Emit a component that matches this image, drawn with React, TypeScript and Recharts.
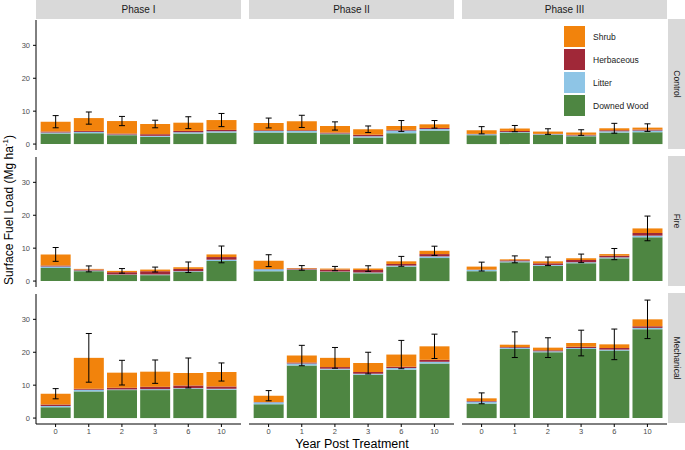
import React from 'react'
import { BarChart, Bar, XAxis, YAxis, ErrorBar } from 'recharts'

const YEARS = ['0', '1', '2', '3', '6', '10']
const PHASES = ['Phase I', 'Phase II', 'Phase III']
const TREATMENTS = ['Control', 'Fire', 'Mechanical']
const Y_TICKS = [0, 10, 20, 30]

// each array: [Phase I, Phase II, Phase III], values in Mg/ha per year post treatment
const CONTROL_WOOD = [[3.2, 3.3, 2.7, 2.2, 3.2, 3.5], [3.5, 3.5, 3.0, 2.0, 3.3, 4.1], [2.7, 3.5, 2.8, 2.4, 3.5, 3.6]]
const CONTROL_LITTER = [[0.3, 0.4, 0.2, 0.3, 0.4, 0.4], [0.5, 0.5, 0.2, 0.4, 0.8, 0.5], [0.3, 0.2, 0.2, 0.2, 0.4, 0.5]]
const CONTROL_HERB = [[0.3, 0.3, 0.3, 0.5, 0.4, 0.4], [0.2, 0.2, 0.3, 0.4, 0.2, 0.3], [0.1, 0.3, 0.1, 0.2, 0.3, 0.3]]
const CONTROL_SHRUB = [[3.0, 3.9, 3.8, 3.1, 2.5, 3.0], [2.2, 2.7, 2.0, 1.7, 1.2, 1.1], [1.1, 0.7, 0.7, 0.7, 0.6, 0.6]]
const CONTROL_SE = [[1.85, 1.85, 1.4, 1.15, 1.8, 2.0], [1.5, 1.85, 1.25, 1.0, 1.65, 1.15], [1.1, 0.95, 0.85, 0.85, 1.5, 1.15]]

const FIRE_WOOD = [[4.0, 3.0, 1.9, 1.8, 2.8, 6.1], [3.0, 3.4, 2.8, 2.4, 4.4, 7.0], [3.0, 5.7, 4.6, 5.4, 6.9, 13.3]]
const FIRE_LITTER = [[0.4, 0.2, 0.1, 0.2, 0.2, 0.4], [0.6, 0.1, 0.1, 0.2, 0.3, 0.5], [0.4, 0.3, 0.3, 0.3, 0.3, 0.5]]
const FIRE_HERB = [[0.3, 0.3, 0.7, 1.0, 0.7, 0.8], [0.1, 0.3, 0.6, 0.8, 0.5, 0.7], [0.1, 0.3, 0.5, 0.7, 0.5, 0.8]]
const FIRE_SHRUB = [[3.4, 0.2, 0.4, 0.5, 0.5, 0.8], [2.5, 0.2, 0.3, 0.4, 0.8, 1.0], [0.9, 0.3, 0.6, 0.5, 0.5, 1.4]]
const FIRE_SE = [[2.1, 0.9, 0.7, 0.75, 1.6, 2.55], [1.8, 0.7, 0.65, 0.85, 1.5, 1.4], [1.35, 1.05, 1.3, 1.3, 1.7, 3.75]]

const MECH_WOOD = [[3.3, 8.1, 8.5, 8.5, 8.9, 8.6], [4.2, 16.0, 14.7, 13.2, 14.7, 16.6], [4.4, 21.0, 20.0, 21.0, 20.5, 27.0]]
const MECH_LITTER = [[0.4, 0.5, 0.2, 0.3, 0.2, 0.3], [0.6, 0.6, 0.3, 0.3, 0.5, 0.5], [0.6, 0.4, 0.3, 0.3, 0.3, 0.4]]
const MECH_HERB = [[0.4, 0.3, 0.5, 0.7, 0.8, 0.7], [0.1, 0.3, 0.5, 0.5, 0.4, 0.6], [0.2, 0.2, 0.3, 0.4, 0.5, 0.5]]
const MECH_SHRUB = [[3.3, 9.4, 4.6, 4.6, 3.8, 4.4], [1.9, 2.1, 2.8, 2.7, 3.7, 4.1], [0.8, 0.7, 0.8, 1.1, 1.1, 2.1]]
const MECH_SE = [[1.55, 7.4, 3.75, 3.55, 4.55, 2.75], [1.55, 3.1, 3.15, 3.3, 4.3, 3.7], [1.65, 3.9, 3.0, 3.9, 4.65, 5.85]]

const WOOD = [CONTROL_WOOD, FIRE_WOOD, MECH_WOOD]
const LITTER = [CONTROL_LITTER, FIRE_LITTER, MECH_LITTER]
const HERB = [CONTROL_HERB, FIRE_HERB, MECH_HERB]
const SHRUB = [CONTROL_SHRUB, FIRE_SHRUB, MECH_SHRUB]
const SE = [CONTROL_SE, FIRE_SE, MECH_SE]

const COLORS: Record<string, string> = {
  wood: '#4E8642',
  litter: '#8EC5E6',
  herb: '#A02838',
  shrub: '#F2830C',
}

const LEGEND_ITEMS = [
  { key: 'shrub', label: 'Shrub' },
  { key: 'herb', label: 'Herbaceous' },
  { key: 'litter', label: 'Litter' },
  { key: 'wood', label: 'Downed Wood' },
]

const COL_LEFT = [36, 249, 462]
const ROW_TOP = [20, 157, 294]
const PANEL_W = 205
const PANEL_H = 130
const FONT = '"Liberation Sans", Arial, sans-serif'

function Facet({ t, p }: { t: number; p: number }) {
  const left = p === 0
  const bottom = t === 2
  const yw = left ? 36 : 0
  const xh = bottom ? 22 : 0

  const data = YEARS.map((year, i) => ({
    year,
    wood: WOOD[t][p][i],
    litter: LITTER[t][p][i],
    herb: HERB[t][p][i],
    shrub: SHRUB[t][p][i],
    se: SE[t][p][i],
  }))

  const tickStyle = { fontSize: 7.5, fill: '#4D4D4D', fontFamily: FONT }

  return (
    <div style={{ position: 'absolute', left: COL_LEFT[p] - yw, top: ROW_TOP[t] }}>
      <BarChart
        width={PANEL_W + yw}
        height={PANEL_H + xh}
        data={data}
        margin={{ top: 0, right: 0, bottom: 0, left: 0 }}
        barCategoryGap="5%"
      >
        <XAxis
          dataKey="year"
          hide={!bottom}
          height={xh}
          padding={{ left: 3, right: 3 }}
          axisLine={{ stroke: '#000', strokeWidth: 1 }}
          tickLine={{ stroke: '#000' }}
          tickSize={3}
          tick={tickStyle}
        />
        <YAxis
          hide={!left}
          width={yw}
          type="number"
          domain={[-1.8, 37.7]}
          ticks={Y_TICKS}
          axisLine={{ stroke: '#000', strokeWidth: 1 }}
          tickLine={{ stroke: '#000' }}
          tickSize={3}
          tickMargin={3}
          tick={tickStyle}
        />
        <Bar dataKey="wood" stackId="a" fill={COLORS.wood} isAnimationActive={false} />
        <Bar dataKey="litter" stackId="a" fill={COLORS.litter} isAnimationActive={false} />
        <Bar dataKey="herb" stackId="a" fill={COLORS.herb} isAnimationActive={false} />
        <Bar dataKey="shrub" stackId="a" fill={COLORS.shrub} isAnimationActive={false}>
          <ErrorBar dataKey="se" width={3} stroke="#000" strokeWidth={1} direction="y" isAnimationActive={false} />
        </Bar>
      </BarChart>
    </div>
  )
}

export default function App() {
  return (
    <div
      style={{
        position: 'absolute',
        left: 0,
        top: 0,
        width: 685,
        height: 450,
        background: '#fff',
        fontFamily: FONT,
        overflow: 'hidden',
      }}
    >
      {PHASES.map((ph, p) => (
        <div
          key={ph}
          style={{
            position: 'absolute',
            left: COL_LEFT[p],
            top: 0,
            width: PANEL_W,
            height: 19,
            background: '#D9D9D9',
            color: '#1A1A1A',
            fontSize: 10,
            lineHeight: '19px',
            textAlign: 'center',
          }}
        >
          {ph}
        </div>
      ))}
      {TREATMENTS.map((tr, t) => (
        <div
          key={tr}
          style={{
            position: 'absolute',
            left: 668,
            top: ROW_TOP[t] - 1,
            width: 17,
            height: PANEL_H,
            background: '#D9D9D9',
          }}
        >
          <div
            style={{
              position: 'absolute',
              left: 8.5,
              top: PANEL_H / 2,
              transform: 'translate(-50%, -50%) rotate(90deg)',
              whiteSpace: 'nowrap',
              fontSize: 8.5,
              color: '#1A1A1A',
            }}
          >
            {tr}
          </div>
        </div>
      ))}
      {TREATMENTS.map((tr, t) => PHASES.map((ph, p) => <Facet key={tr + ph} t={t} p={p} />))}
      <div style={{ position: 'absolute', left: 563, top: 25 }}>
        {LEGEND_ITEMS.map((it) => (
          <div key={it.key} style={{ display: 'flex', alignItems: 'center', height: 23 }}>
            <div style={{ width: 21, height: 21, background: COLORS[it.key], border: '0.5px solid #fff' }} />
            <span style={{ marginLeft: 7, fontSize: 8.5, color: '#1A1A1A' }}>{it.label}</span>
          </div>
        ))}
      </div>
      <div
        style={{
          position: 'absolute',
          left: 8,
          top: 210,
          transform: 'translate(-50%, -50%) rotate(-90deg)',
          whiteSpace: 'nowrap',
          fontSize: 12,
          color: '#000',
        }}
      >
        Surface Fuel Load (Mg ha<sup style={{ fontSize: 8 }}>-1</sup>)
      </div>
      <div
        style={{
          position: 'absolute',
          left: 352,
          top: 444,
          transform: 'translate(-50%, -50%)',
          whiteSpace: 'nowrap',
          fontSize: 12.5,
          color: '#000',
        }}
      >
        Year Post Treatment
      </div>
    </div>
  )
}
